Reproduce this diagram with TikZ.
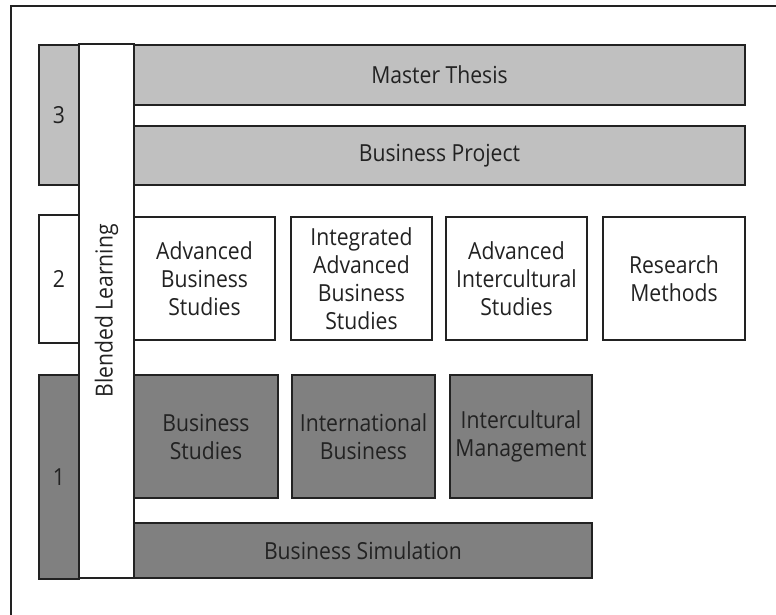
\documentclass[tikz,border=0pt]{standalone}
\usepackage{fontspec}
\setmainfont[FakeStretch=0.9]{Open Sans}
\definecolor{lightgrey}{HTML}{C0C0C0}
\definecolor{darkgrey}{HTML}{808080}
\definecolor{ink}{HTML}{222222}
\begin{document}
\begin{tikzpicture}[x=1pt,y=-1pt]
  \tikzstyle{every node}=[draw=ink,line width=1.2pt,inner sep=0pt,align=center,
    font=\fontsize{23.5}{28}\selectfont,text=ink]
  \tikzstyle{light}=[fill=lightgrey]
  \tikzstyle{dark}=[fill=darkgrey]
  \tikzstyle{plain}=[fill=white]
  \useasboundingbox (0,0) rectangle (776,614);
  \clip (0,0) rectangle (776,614);
  \draw[ink,line width=1.2pt] (11,6) rectangle (800,640);
  % levels
  \node[light,minimum width=40pt,minimum height=140pt] (level3) at (59,115) {3};
  \node[plain,minimum width=40pt,minimum height=128pt] (level2) at (59,279) {2};
  \node[dark,minimum width=40pt,minimum height=204pt]  (level1) at (59,477) {1};
  % level 3
  \node[light,minimum width=611pt,minimum height=60pt] (thesis)  at (439.5,75)    {Master Thesis};
  \node[light,minimum width=611pt,minimum height=59pt] (project) at (439.5,155.5) {Business Project};
  % level 2
  \node[plain,minimum width=141pt,minimum height=123pt] (advbus)   at (204.5,278.5) {Advanced\\Business\\Studies};
  \node[plain,minimum width=141pt,minimum height=123pt] (intadv)   at (361.5,278.5) {Integrated\\Advanced\\Business\\Studies};
  \node[plain,minimum width=141pt,minimum height=123pt] (advinter) at (516.5,278.5) {Advanced\\Intercultural\\Studies};
  \node[plain,minimum width=142pt,minimum height=123pt] (research) at (674,278.5)   {Research\\Methods};
  % level 1
  \node[dark,minimum width=144pt,minimum height=123pt] (busstud) at (206,436.5)   {Business\\Studies};
  \node[dark,minimum width=143pt,minimum height=123pt] (intbus)  at (363.5,436.5) {International\\Business};
  \node[dark,minimum width=142pt,minimum height=123pt] (intman)  at (521,436.5)   {Intercultural\\Management};
  \node[dark,minimum width=458pt,minimum height=55pt]  (sim)     at (363,550.5)   {Business Simulation};
  % blended learning column
  \node[plain,rotate=90,minimum width=534pt,minimum height=55pt] (blended) at (106.5,311)
    {Blended Learning};
\end{tikzpicture}
\end{document}
